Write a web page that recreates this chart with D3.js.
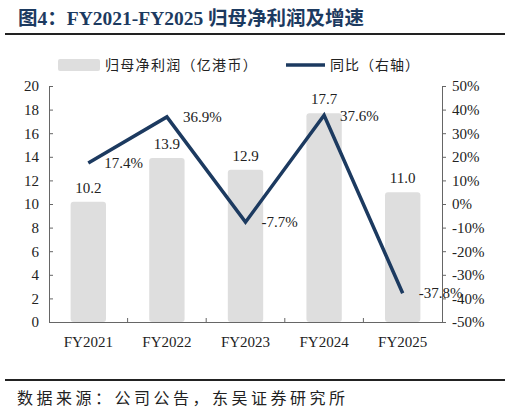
<!DOCTYPE html>
<html>
<head>
<meta charset="utf-8">
<script src="https://cdn.jsdelivr.net/npm/d3@7"></script>
<style>
  body { margin: 0; background: #fff; }
  svg text { font-family: "Liberation Serif", "Noto Sans CJK SC", serif; }
</style>
</head>
<body>
<div id="chart"></div>
<script>
const years = ["FY2021", "FY2022", "FY2023", "FY2024", "FY2025"];
const profit = [10.2, 13.9, 12.9, 17.7, 11.0];
const growth = [17.4, 36.9, -7.7, 37.6, -37.8];
const leftTicks = [0, 2, 4, 6, 8, 10, 12, 14, 16, 18, 20];
const rightTicks = [-50, -40, -30, -20, -10, 0, 10, 20, 30, 40, 50];

const W = 510, H = 414;
const margin = {top: 86, right: 68, bottom: 92, left: 49};
const navy = "#1c3a60";

const svg = d3.select("#chart").append("svg")
    .attr("width", W)
    .attr("height", H);

// title + rules
svg.append("text")
    .attr("x", 18).attr("y", 25)
    .attr("font-size", 19.5).attr("font-weight", "bold")
    .attr("fill", navy)
    .text("图4：FY2021-FY2025 归母净利润及增速");
svg.append("line").attr("x1", 5).attr("x2", 505).attr("y1", 34).attr("y2", 34)
    .attr("stroke", "#222").attr("stroke-width", 2);
svg.append("line").attr("x1", 5).attr("x2", 505).attr("y1", 380).attr("y2", 380)
    .attr("stroke", "#222").attr("stroke-width", 2);
svg.append("text")
    .attr("x", 17).attr("y", 404)
    .attr("font-size", 16).attr("letter-spacing", 3.5).attr("fill", "#222")
    .text("数据来源：公司公告，东吴证券研究所");

const x = d3.scaleBand()
    .domain(years)
    .range([margin.left, W - margin.right]);
const y = d3.scaleLinear()
    .domain([0, 20])
    .range([H - margin.bottom, margin.top]);
const y2 = d3.scaleLinear()
    .domain([-50, 50])
    .range([H - margin.bottom, margin.top]);

// bars
const barW = x.bandwidth() * 0.45;
svg.selectAll(".bar")
    .data(profit)
  .enter().append("rect")
    .attr("class", "bar")
    .attr("x", (d, i) => x(years[i]) + (x.bandwidth() - barW) / 2)
    .attr("width", barW)
    .attr("y", d => y(d))
    .attr("height", d => y(0) - y(d))
    .attr("rx", 3)
    .attr("fill", "#dedede");

svg.selectAll(".bar-label")
    .data(profit)
  .enter().append("text")
    .attr("class", "bar-label")
    .attr("x", (d, i) => x(years[i]) + x.bandwidth() / 2)
    .attr("y", d => y(d) - 9)
    .attr("text-anchor", "middle")
    .attr("font-size", 15)
    .attr("fill", "#222")
    .text(d => d.toFixed(1));

// axes
const axL = svg.append("g")
    .attr("transform", "translate(" + margin.left + ",0)")
    .call(d3.axisLeft(y).tickValues(leftTicks).tickSizeInner(-4).tickSizeOuter(0).tickPadding(10));
const axR = svg.append("g")
    .attr("transform", "translate(" + (W - margin.right) + ",0)")
    .call(d3.axisRight(y2).tickValues(rightTicks).tickSizeInner(4).tickSizeOuter(0).tickPadding(6)
      .tickFormat(d => d + "%"));
const axB = svg.append("g")
    .attr("transform", "translate(0," + (H - margin.bottom) + ")")
    .call(d3.axisBottom(x).tickSize(0).tickPadding(14));

[axL, axR, axB].forEach(g => {
  g.selectAll("path").attr("stroke", "#666");
  g.selectAll("line").attr("stroke", "#666");
  g.selectAll("text").attr("font-size", 15).attr("fill", "#222")
    .attr("font-family", "Liberation Serif, serif");
});

// category separators on the bottom axis
svg.selectAll(".sep")
    .data(years.slice(1))
  .enter().append("line")
    .attr("x1", d => x(d)).attr("x2", d => x(d))
    .attr("y1", H - margin.bottom).attr("y2", H - margin.bottom - 4)
    .attr("stroke", "#666");

// growth line
const line = d3.line()
    .x((d, i) => x(years[i]) + x.bandwidth() / 2)
    .y(d => y2(d));
svg.append("path")
    .datum(growth)
    .attr("d", line)
    .attr("fill", "none")
    .attr("stroke", navy)
    .attr("stroke-width", 3.5);

svg.selectAll(".line-label")
    .data(growth)
  .enter().append("text")
    .attr("class", "line-label")
    .attr("x", (d, i) => x(years[i]) + x.bandwidth() / 2 + 16)
    .attr("y", d => y2(d))
    .attr("dy", "0.35em")
    .attr("font-size", 15)
    .attr("fill", "#222")
    .text(d => d.toFixed(1) + "%");

// legend
const lg = svg.append("g");
lg.append("rect").attr("x", 58).attr("y", 59).attr("width", 42).attr("height", 12)
    .attr("rx", 2).attr("fill", "#dedede");
lg.append("text").attr("x", 105).attr("y", 70).attr("font-size", 14)
    .attr("letter-spacing", 1.3).attr("fill", "#222")
    .text("归母净利润（亿港币）");
lg.append("line").attr("x1", 286).attr("x2", 325).attr("y1", 65).attr("y2", 65)
    .attr("stroke", navy).attr("stroke-width", 3.5);
lg.append("text").attr("x", 330).attr("y", 70).attr("font-size", 14)
    .attr("letter-spacing", 1).attr("fill", "#222")
    .text("同比（右轴）");
</script>
</body>
</html>
